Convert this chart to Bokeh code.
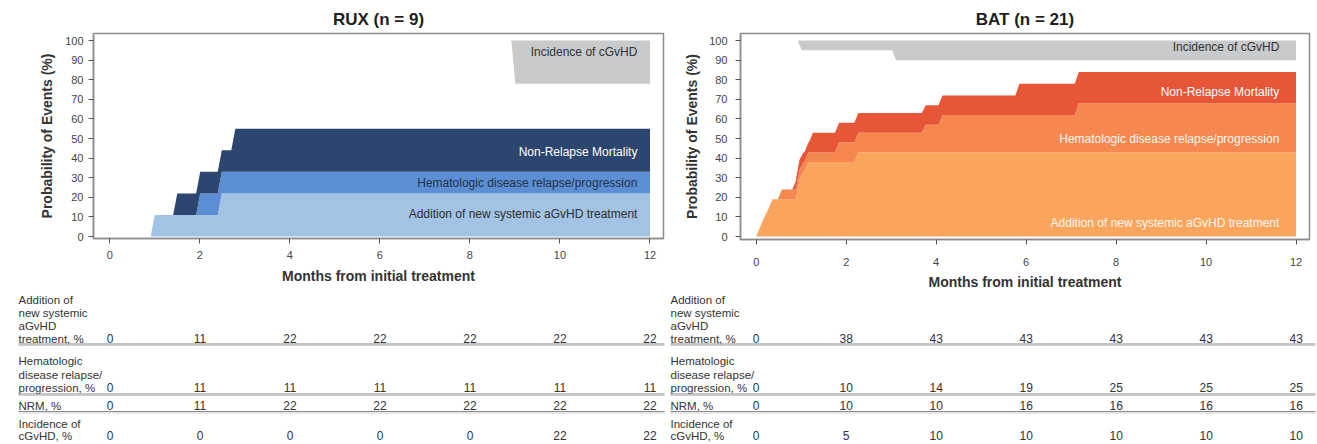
import numpy as np
from bokeh.plotting import figure
from bokeh.layouts import row, column
from bokeh.models import Range1d, FixedTicker
from bokeh.core.properties import value
from bokeh.embed import file_html
from bokeh.resources import INLINE

# ---------------- data ----------------
month_ticks = [0, 2, 4, 6, 8, 10, 12]
pct_ticks = [0, 10, 20, 30, 40, 50, 60, 70, 80, 90, 100]

# Event onset times (months) and cumulative incidence (%) reached at each event
rux_add_t = [0.91, 2.40]
rux_add_v = [11, 22]
rux_hem_t = [1.92]
rux_hem_v = [11]
rux_nrm_t = [1.41, 2.70]
rux_nrm_v = [11, 22]
rux_cgvhd_t = [8.92]
rux_cgvhd_v = [22]

bat_add_t = [0.0, 0.09, 0.18, 0.27, 0.88, 0.92, 0.96, 1.07, 2.18]
bat_add_v = [5, 10, 14, 19, 24, 29, 33, 38, 43]
bat_hem_t = [0.48, 1.75, 3.68, 4.05, 7.08]
bat_hem_v = [5, 10, 14, 19, 25]
bat_nrm_t = [0.80, 1.17, 5.76]
bat_nrm_v = [5, 10, 16]
bat_cgvhd_t = [0.92, 3.02]
bat_cgvhd_v = [5, 10]

# Cumulative incidence (%) at months 0, 2, ..., 12
table_months = [0, 2, 4, 6, 8, 10, 12]
rux_tab_add = [0, 11, 22, 22, 22, 22, 22]
rux_tab_hem = [0, 11, 11, 11, 11, 11, 11]
rux_tab_nrm = [0, 11, 22, 22, 22, 22, 22]
rux_tab_cgvhd = [0, 0, 0, 0, 0, 22, 22]
bat_tab_add = [0, 38, 43, 43, 43, 43, 43]
bat_tab_hem = [0, 10, 14, 19, 25, 25, 25]
bat_tab_nrm = [0, 10, 10, 16, 16, 16, 16]
bat_tab_cgvhd = [0, 5, 10, 10, 10, 10, 10]

table_labels = [
    ["Addition of", "new systemic", "aGvHD", "treatment, %"],
    ["Hematologic", "disease relapse/", "progression, %"],
    ["NRM, %"],
    ["Incidence of", "cGvHD, %"],
]
layer_names = [
    "Addition of new systemic aGvHD treatment",
    "Hematologic disease relapse/progression",
    "Non-Relapse Mortality",
    "Incidence of cGvHD",
]

# ---------------- styling ----------------
FONT = "Liberation Sans"
RAMP = 0.09          # width (months) of the sloped edge drawn at each event
END = 12.0
PX_PER_MONTH = 45.0

rux_colors = ["#a2c3e3", "#5b8ed2", "#2d4670"]
bat_colors = ["#f9a55d", "#f5884f", "#e85638"]
grey = "#c9cacc"


def curve(times, vals):
    """Stepwise cumulative incidence with a short sloped rise at each event."""
    xs, ys = [0.0], [0.0]
    prev = 0.0
    for i, (t, v) in enumerate(zip(times, vals)):
        nxt = times[i + 1] if i + 1 < len(times) else END
        xs += [t, min(t + RAMP, nxt)]
        ys += [prev, v]
        prev = v
    xs.append(END)
    ys.append(prev)
    px, py = [xs[0]], [ys[0]]
    for x, y in zip(xs[1:], ys[1:]):
        if x == px[-1]:
            py[-1] = y
            continue
        px.append(x)
        py.append(y)
    return np.array(px), np.array(py)


def draw_stack(p, layers, colors, cg_t, cg_v):
    curves = [curve(t, v) for t, v in layers]
    grid = np.unique(np.concatenate([c[0] for c in curves]))
    start = min(t[0] for t, _ in layers)
    grid = grid[grid >= start]
    base = np.zeros_like(grid)
    for (cx, cy), col in zip(curves, colors):
        top = base + np.interp(grid, cx, cy)
        p.varea(x=grid, y1=base, y2=top, fill_color=col)
        base = top
    gx, gy = curve(cg_t, cg_v)
    keep = gx >= cg_t[0]
    p.varea(x=gx[keep], y1=100.0 - gy[keep], y2=np.full(keep.sum(), 100.0),
            fill_color=grey)


def make_plot(title, width, height, xr, yr, border, tick_standoff, label_standoff,
              y_tick_standoff, y_label_standoff):
    p = figure(width=width, height=height, x_range=Range1d(*xr), y_range=Range1d(*yr),
               output_backend="svg", toolbar_location=None,
               min_border_left=border[0], min_border_right=border[1],
               min_border_top=border[2], min_border_bottom=border[3],
               background_fill_color="white", border_fill_color="white")
    p.frame_align = False
    p.title.text = title
    p.title.align = "center"
    p.title.text_font = FONT
    p.title.text_font_size = "17px"
    p.title.text_font_style = "bold"
    p.title.text_color = "#1e1e1e"
    p.outline_line_color = "#8c8c8c"
    p.outline_line_width = 1.5
    p.xgrid.visible = False
    p.ygrid.visible = False
    p.xaxis.ticker = FixedTicker(ticks=month_ticks)
    p.yaxis.ticker = FixedTicker(ticks=pct_ticks)
    p.xaxis.axis_label = "Months from initial treatment"
    p.yaxis.axis_label = "Probability of Events (%)"
    for ax in (p.xaxis[0], p.yaxis[0]):
        ax.axis_line_color = "#8c8c8c"
        ax.axis_line_width = 1.5
        ax.major_tick_line_color = "#555555"
        ax.major_tick_out = 5
        ax.major_tick_in = 0
        ax.minor_tick_line_color = None
        ax.major_label_text_font = FONT
        ax.major_label_text_font_size = "11px"
        ax.major_label_text_color = "#444444"
        ax.axis_label_text_font = FONT
        ax.axis_label_text_font_size = "14px"
        ax.axis_label_text_font_style = "bold"
        ax.axis_label_text_color = "#333333"
    p.xaxis.major_label_standoff = tick_standoff
    p.xaxis.axis_label_standoff = label_standoff
    p.yaxis.major_label_standoff = y_tick_standoff
    p.yaxis.axis_label_standoff = y_label_standoff
    return p


def layer_labels(p, x, ys, colors):
    for name, y, col in zip(layer_names, ys, colors):
        p.text(x=[x], y=[y], text=[name], text_font=value(FONT), text_font_size="12px",
               text_align="right", text_baseline="middle", text_color=col)


# ---------------- RUX panel ----------------
p_rux = make_plot("RUX (n = 9)", 666, 290, (-0.36, 12.3), (-1.0, 103.6),
                  (93, 3, 33, 52), 7, 6, 5, 7)
draw_stack(p_rux, [(rux_add_t, rux_add_v), (rux_hem_t, rux_hem_v), (rux_nrm_t, rux_nrm_v)],
           rux_colors, rux_cgvhd_t, rux_cgvhd_v)
layer_labels(p_rux, 11.72, [11.4, 27.5, 43.2, 94.4],
             ["#2f2f2f", "#24324a", "#ffffff", "#333333"])

# ---------------- BAT panel ----------------
p_bat = make_plot("BAT (n = 21)", 651, 292, (-0.35, 12.3), (-1.53, 103.6),
                  (74, 8, 33, 53), 13, 5, 8, 6)
draw_stack(p_bat, [(bat_add_t, bat_add_v), (bat_hem_t, bat_hem_v), (bat_nrm_t, bat_nrm_v)],
           bat_colors, bat_cgvhd_t, bat_cgvhd_v)
layer_labels(p_bat, 11.63, [7.1, 49.7, 74.0, 96.8],
             ["#fff8f0", "#fff8f0", "#ffffff", "#333333"])


# ---------------- incidence tables ----------------
label_rows = [[299, 312, 325, 338], [360, 374, 387], [405], [423, 435]]
rule_rows = [343.5, 393.5, 411]


def make_table(width, page_top, height, month0_px, label_px, rows):
    t = figure(width=width, height=height,
               x_range=Range1d(-month0_px / PX_PER_MONTH, (width - month0_px) / PX_PER_MONTH),
               y_range=Range1d(page_top + height, page_top),
               x_axis_type=None, y_axis_type=None, output_backend="svg",
               toolbar_location=None, min_border=0, min_border_left=0,
               min_border_right=0, min_border_top=0, min_border_bottom=0,
               outline_line_color=None,
               background_fill_color="white", border_fill_color="white")
    t.frame_align = False
    t.xgrid.visible = False
    t.ygrid.visible = False
    lx = (label_px - month0_px) / PX_PER_MONTH
    rx = (width - 2 - month0_px) / PX_PER_MONTH
    for lines, ypos, vals in zip(table_labels, label_rows, rows):
        t.text(x=[lx] * len(lines), y=ypos, text=lines, text_font=value(FONT),
               text_font_size="11.5px", text_align="left", text_baseline="middle",
               text_color="#333333")
        t.text(x=table_months, y=[ypos[-1]] * len(vals), text=[str(v) for v in vals],
               text_font=value(FONT), text_font_size="12px", text_align="center",
               text_baseline="middle", text_color="#333333")
    for yr in rule_rows:
        t.segment(x0=[lx], y0=[yr], x1=[rx], y1=[yr], line_color="#8a8a8a", line_width=1.2)
        t.segment(x0=[lx], y0=[yr + 1.5], x1=[rx], y1=[yr + 1.5], line_color="#cfcfcf",
                  line_width=1)
    return t


t_rux = make_table(666, 290, 154, 109.5, 18,
                   [rux_tab_add, rux_tab_hem, rux_tab_nrm, rux_tab_cgvhd])
t_bat = make_table(651, 292, 152, 89.7, 4,
                   [bat_tab_add, bat_tab_hem, bat_tab_nrm, bat_tab_cgvhd])

layout = row(column(p_rux, t_rux), column(p_bat, t_bat))

open("out.html", "w").write(file_html(layout, INLINE))
